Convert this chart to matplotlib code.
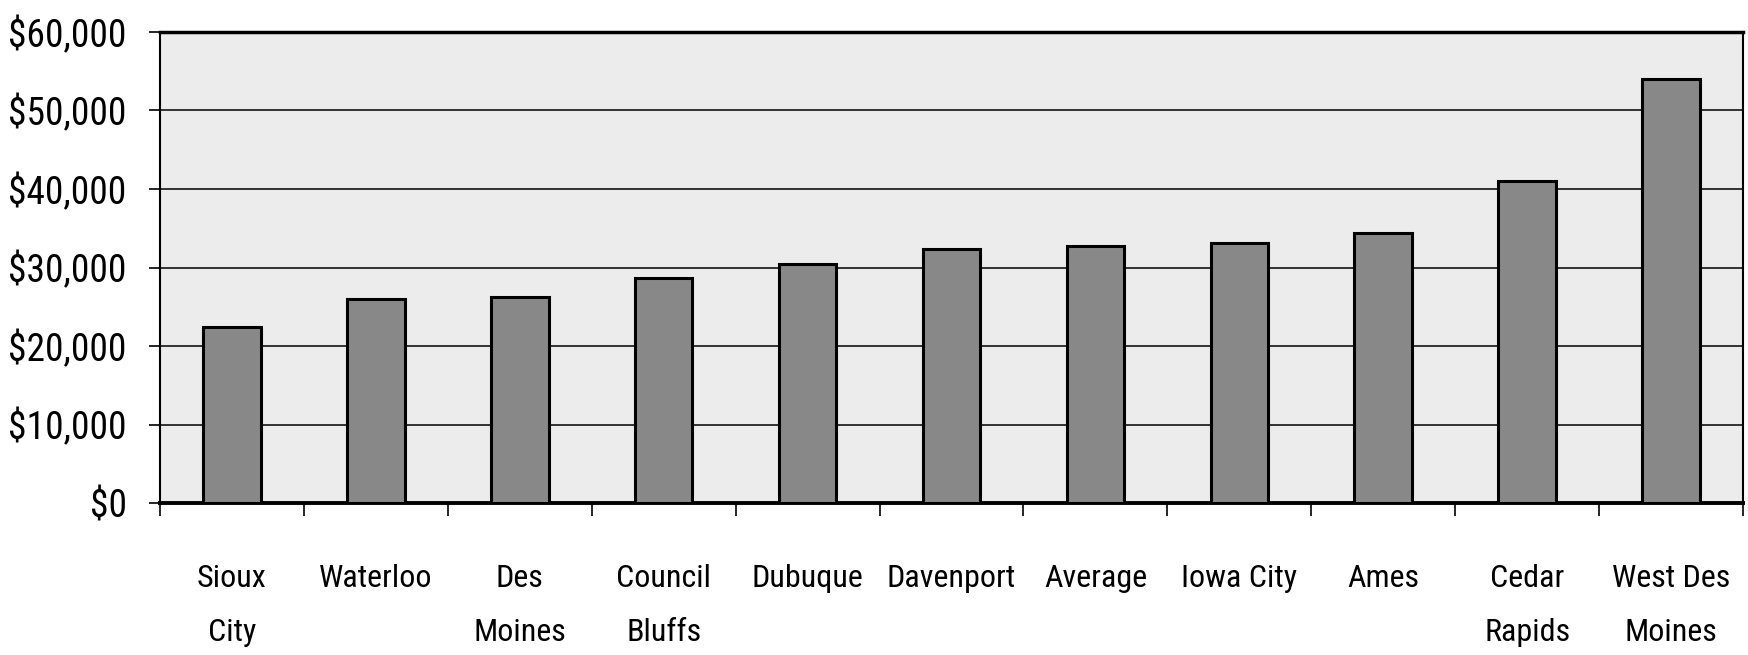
import numpy as np
import matplotlib
matplotlib.use('Agg')
import matplotlib.pyplot as plt
from matplotlib.ticker import FuncFormatter

cities = ['Sioux\nCity', 'Waterloo', 'Des\nMoines', 'Council\nBluffs', 'Dubuque', 'Davenport',
          'Average', 'Iowa City', 'Ames', 'Cedar\nRapids', 'West Des\nMoines']
values = [22400, 26000, 26300, 28600, 30400, 32300, 32700, 33100, 34400, 41000, 54000]
yticks = [0, 10000, 20000, 30000, 40000, 50000, 60000]

plt.rcParams['font.family'] = ['Roboto Condensed', 'Archivo Narrow', 'Liberation Sans', 'DejaVu Sans']

fig = plt.figure(figsize=(17.48, 6.55), dpi=100)
ax = fig.add_axes([160 / 1748, 1 - 503 / 655, (1743 - 160) / 1748, (503 - 32) / 655])
ax.set_facecolor('#ececec')

x = np.arange(len(cities))
ax.bar(x, values, width=0.4, color='#888888', edgecolor='black', linewidth=2.2, zorder=3)

ax.set_xlim(-0.5, len(cities) - 0.5)
ax.set_ylim(0, 60000)
ax.set_yticks(yticks)
ax.yaxis.set_major_formatter(FuncFormatter(lambda v, p: '${:,.0f}'.format(v)))
ax.grid(axis='y', color='black', linewidth=1.1, zorder=1)
ax.set_axisbelow(True)

ax.set_xticks(x)
ax.set_xticklabels(cities, fontsize=23, linespacing=2.1, va='top')
ax.set_xticks(np.arange(len(cities) + 1) - 0.5, minor=True)
ax.tick_params(axis='x', which='major', length=0, pad=44)
ax.tick_params(axis='x', which='minor', length=9, width=1.2, direction='out')
ax.tick_params(axis='y', labelsize=27, length=8, width=1.2, pad=16)

for side in ['left', 'right']:
    ax.spines[side].set_linewidth(1.5)
ax.spines['top'].set_linewidth(2.5)
ax.spines['bottom'].set_linewidth(2.8)

plt.savefig('out.png', dpi=100)
